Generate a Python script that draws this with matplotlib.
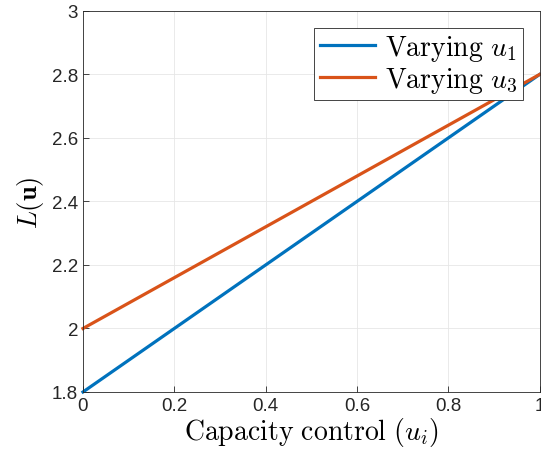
import numpy as np
import matplotlib.pyplot as plt

plt.rcParams['mathtext.fontset'] = 'cm'
plt.rcParams['font.family'] = ['Liberation Sans', 'DejaVu Sans']

# data
u = [0.0, 1.0]
L_u1 = [1.8, 2.8]
L_u3 = [2.0, 2.8]
xticks = [0, 0.2, 0.4, 0.6, 0.8, 1]
xtick_labels = ['0', '0.2', '0.4', '0.6', '0.8', '1']
yticks = [1.8, 2.0, 2.2, 2.4, 2.6, 2.8, 3.0]
ytick_labels = ['1.8', '2', '2.2', '2.4', '2.6', '2.8', '3']

fig = plt.figure(figsize=(5.41, 4.6), dpi=100)
ax = fig.add_axes([0.1534, 0.1457, 0.8440, 0.8283])

ax.plot(u, L_u1, color='#0072BD', linewidth=2.3, label=r'$\mathrm{Varying}\ u_1$', clip_on=False)
ax.plot(u, L_u3, color='#D95319', linewidth=2.3, label=r'$\mathrm{Varying}\ u_3$', clip_on=False)

ax.set_xlim(0, 1)
ax.set_ylim(1.8, 3)
ax.set_xticks(xticks)
ax.set_xticklabels(xtick_labels)
ax.set_yticks(yticks)
ax.set_yticklabels(ytick_labels)
ax.tick_params(direction='in', length=4, labelsize=13.5, colors='#262626', width=0.6)
for s in ax.spines.values():
    s.set_color('#262626')
    s.set_linewidth(0.6)
ax.grid(True, color='#e6e6e6', linewidth=0.6)
ax.set_axisbelow(True)

ax.set_xlabel(r'$\mathrm{Capacity\ control}\ (u_i)$', fontsize=20, labelpad=1)
ax.set_ylabel(r'$L(\mathbf{u})$', fontsize=19, labelpad=4)

leg = ax.legend(loc='upper right', fontsize=20, fancybox=False, framealpha=1,
                edgecolor='#262626', handlelength=2.0, borderpad=0.2,
                labelspacing=0.05, handletextpad=0.35, borderaxespad=0.6)
leg.get_frame().set_linewidth(0.6)

fig.savefig('out.png', dpi=100)
